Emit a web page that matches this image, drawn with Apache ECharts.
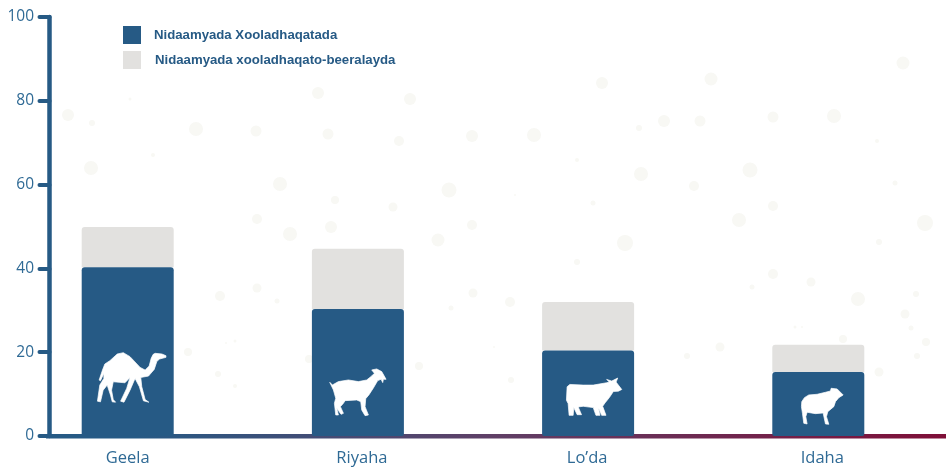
<!DOCTYPE html>
<html><head><meta charset="utf-8">
<style>html,body{margin:0;padding:0;background:#fff}#c{width:946px;height:467px}</style>
<script src="https://cdn.jsdelivr.net/npm/echarts@6/dist/echarts.min.js"></script>
</head><body><div id="c"></div>
<script>
const categories = ['Geela','Riyaha','Lo’da','Idaha'];
const seriesNames = ['Nidaamyada Xooladhaqatada','Nidaamyada xooladhaqato-beeralayda'];
const pastoral = [40.3,30.3,20.4,15.3];
const agroPastoral = [9.6,14.4,11.6,6.5];
const yTicks = [0,20,40,60,80,100];
const iconHeights = [13.98,10.43,9.38,7.09];
const backgroundDots = [[68,115,12],[92,123,6],[91,168,14],[196,129,14],[153,155,4],[256,131,11],[318,93,12],[328,134,11],[410,99,12],[399,141,10],[472,136,12],[534,135,14],[602,83,12],[639,128,6],[664,121,12],[700,121,11],[711,79,13],[773,117,11],[834,116,14],[903,63,13],[939,109,5],[940,154,13],[877,141,4],[641,174,14],[694,186,10],[750,170,15],[895,183,5],[280,184,14],[335,200,8],[449,190,15],[393,207,9],[515,195,2],[577,160,4],[593,203,5],[257,219,10],[331,227,12],[290,234,14],[438,240,13],[472,225,10],[625,243,16],[739,220,14],[773,206,10],[925,223,16],[879,242,6],[577,262,6],[773,274,10],[811,282,9],[858,299,14],[752,287,5],[916,294,6],[905,314,9],[911,328,5],[926,342,8],[917,356,6],[220,296,10],[257,288,9],[277,301,5],[473,293,9],[510,302,10],[451,308,5],[188,352,8],[235,341,3],[226,343,2],[218,374,6],[235,386,4],[419,366,8],[511,380,6],[494,347,2],[687,356,6],[720,347,9],[843,339,8],[802,327,2],[795,327,3],[879,372,9],[309,359,8],[130,99,3]];

const iconPaths = [
 'path://M257 47L245 42L225 40L219 43L213 55L207 78L195 90L180 82L150 50L130 38L112 42L90 62L75 72L68 90L58 120L62 122L72 100L72 115L60 135L53 183L62 185L70 150L82 135L92 165L97 185L107 186L100 178L95 150L100 125L135 128L150 112L140 145L122 183L132 186L150 150L165 115L178 140L190 182L206 186L195 178L185 140L182 112L205 108L222 88L230 64L238 57L257 52Z',
 'path://M44 67L52 75L70 65L100 60L130 65L155 60L170 48L178 40L170 30L185 27L200 35L213 58L205 58L203 68L198 58L188 62L175 84L162 104L152 116L150 140L160 165L150 167L140 150L137 125L125 120L90 122L85 130L76 140L85 160L78 163L65 145L70 165L62 165L58 130L62 115L55 90Z',
 'path://M50 90L52 50L60 43L100 45L130 45L170 38L178 36L170 28L185 33L203 24L198 36L215 58L205 63L190 64L178 82L165 98L158 108L168 135L155 135L145 112L150 135L138 135L130 112L100 108L85 110L95 133L82 133L72 112L70 135L58 135L55 100Z',
 'path://M63 95L64 80L72 68L85 60L110 58L135 52L150 48L152 40L170 42L188 60L175 68L165 80L160 95L142 110L138 125L145 148L135 147L128 114L105 116L80 112L76 125L80 147L70 145L66 115Z'
];
const iconSizes = [[68.5,49.5],[56.3,46.7],[55.3,37.3],[41.7,36]];
const iconOffsets = [[4,0],[0,0],[6,0],[4,0]];
const labelPaddings = [[0,0,0,0],[0,0,0,8],[0,2,0,0],[0,0,0,8]];

const BLUE='#265a85', GREY='#e2e1df', TEXT='#2f6a95';
const chart = echarts.init(document.getElementById('c'),null,{renderer:'canvas'});
chart.setOption({
 animation:false, backgroundColor:'#fff',
 grid:{left:12.6,width:920.8,top:17,height:419,containLabel:false},
 legend:{orient:'vertical',left:123,top:26,padding:0,itemWidth:18,itemHeight:18,itemGap:7,icon:'rect',selectedMode:false,
   data:[{name:seriesNames[0]},{name:seriesNames[1],textStyle:{padding:[4,0,0,9]}}],
   textStyle:{fontFamily:'Liberation Sans',fontWeight:'bold',fontSize:13.2,color:BLUE,padding:[0,0,0,8]}},
 xAxis:[
  {type:'category',
   data:categories.map((c,i)=>({value:c,textStyle:{padding:labelPaddings[i]}})),
   axisLine:{show:false},axisTick:{show:false},
   axisLabel:{margin:13.5,fontFamily:'Open Sans',fontSize:16.5,color:TEXT}},
  {type:'value',min:12.6,max:933.4,show:false}
 ],
 yAxis:[
  {type:'value',min:0,max:100,interval:20,offset:-36.9,splitLine:{show:false},
   axisLine:{show:true,lineStyle:{color:BLUE,width:4.5,cap:'round'}},
   axisTick:{show:true,length:10,lineStyle:{color:BLUE,width:4,cap:'round'}},
   axisLabel:{margin:15.5,fontFamily:'Open Sans',fontSize:15.5,color:TEXT,
     formatter:v=>yTicks.includes(v)?String(v):''}},
  {type:'value',min:17,max:436,inverse:true,show:false}
 ],
 graphic:[{type:'rect',z:1,shape:{x:46,y:434,width:900,height:4.5},
   style:{fill:new echarts.graphic.LinearGradient(0,0,1,0,[
     {offset:0,color:'#265a85'},{offset:0.1,color:'#265a85'},{offset:0.5,color:'#603f66'},{offset:1,color:'#7f0f38'}])}}],
 series:[
  {type:'scatter',xAxisIndex:1,yAxisIndex:1,silent:true,z:0,
   data:backgroundDots,symbolSize:d=>d[2],itemStyle:{color:'#f8f8f4',opacity:1}},
  {name:seriesNames[0],type:'bar',stack:'a',barWidth:92,z:3,data:pastoral,
   itemStyle:{color:BLUE,borderRadius:[3,3,2,2]}},
  {name:seriesNames[1],type:'bar',stack:'a',barWidth:92,z:2,data:agroPastoral,
   itemStyle:{color:GREY,borderRadius:[3,3,0,0]}},
  {type:'scatter',z:4,silent:true,symbolKeepAspect:false,
   data:iconHeights.map((v,i)=>({value:[i,v],symbol:iconPaths[i],symbolSize:iconSizes[i],symbolOffset:iconOffsets[i]})),
   itemStyle:{color:'#fff',opacity:1,borderColor:'#fff',borderWidth:0.7}}
 ]
});
</script></body></html>
